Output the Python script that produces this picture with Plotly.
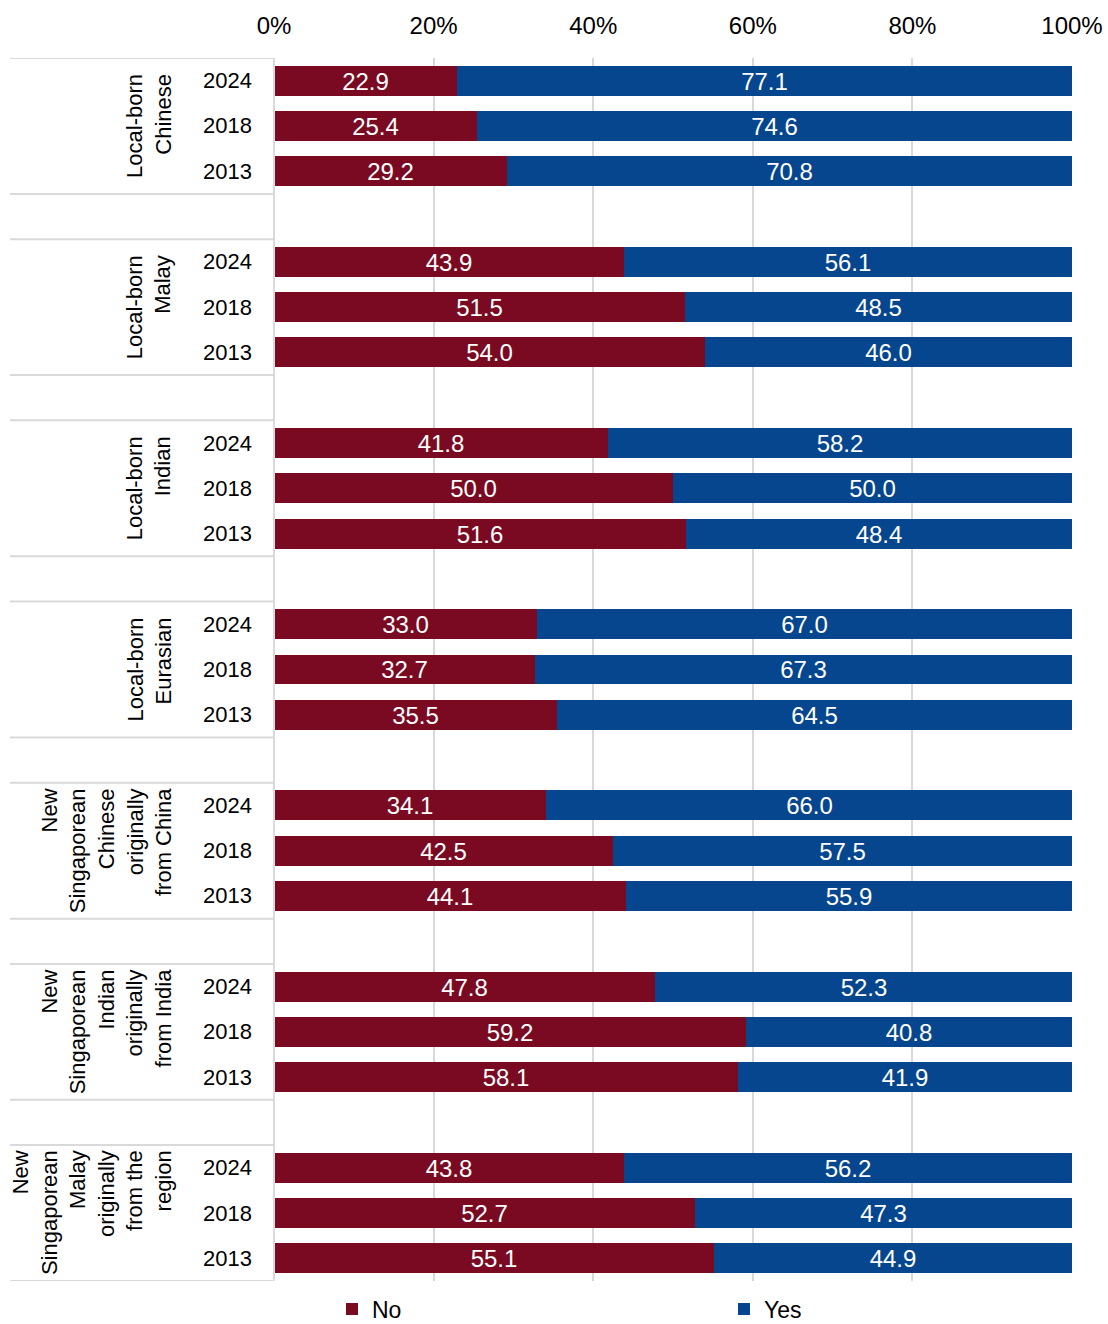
import plotly.graph_objects as go

# Survey groups, years and shares (%) answering No / Yes
groups = [
    "Local-born<br>Chinese",
    "Local-born<br>Malay",
    "Local-born<br>Indian",
    "Local-born<br>Eurasian",
    "New<br>Singaporean<br>Chinese<br>originally<br>from China",
    "New<br>Singaporean<br>Indian<br>originally<br>from India",
    "New<br>Singaporean<br>Malay<br>originally<br>from the<br>region",
]
years = ["2024", "2018", "2013"]

no_values = [
    [22.9, 25.4, 29.2],
    [43.9, 51.5, 54.0],
    [41.8, 50.0, 51.6],
    [33.0, 32.7, 35.5],
    [34.1, 42.5, 44.1],
    [47.8, 59.2, 58.1],
    [43.8, 52.7, 55.1],
]
yes_values = [
    [77.1, 74.6, 70.8],
    [56.1, 48.5, 46.0],
    [58.2, 50.0, 48.4],
    [67.0, 67.3, 64.5],
    [66.0, 57.5, 55.9],
    [52.3, 40.8, 41.9],
    [56.2, 47.3, 44.9],
]
x_ticks = [0, 20, 40, 60, 80, 100]

NO_COLOR = "#7A0A22"
YES_COLOR = "#06468F"
GRID = "#D9D9D9"
FONT = "Liberation Sans, Arial, sans-serif"

# Each group takes three rows plus one blank spacer row
ROWS_PER_GROUP = len(years) + 1
row_pos, no_flat, yes_flat = [], [], []
for g in range(len(groups)):
    for k in range(len(years)):
        row_pos.append(g * ROWS_PER_GROUP + k)
        no_flat.append(no_values[g][k])
        yes_flat.append(yes_values[g][k])
last_row = (len(groups) - 1) * ROWS_PER_GROUP + len(years) - 1

fig = go.Figure()
for name, vals, color in [("No", no_flat, NO_COLOR), ("Yes", yes_flat, YES_COLOR)]:
    fig.add_trace(go.Bar(
        name=name, y=row_pos, x=vals, orientation="h",
        marker=dict(color=color, line=dict(width=0)),
        width=0.66,
        text=[f"{v:.1f}" for v in vals],
        textposition="inside", insidetextanchor="middle",
        constraintext="none",
        textfont=dict(color="white", size=24, family=FONT),
        hoverinfo="x+name",
    ))

# Left-hand category table: separators, group names and years
L = 274
W = 798
FIG_W, FIG_H = 1108, 1324
x_left_paper = (10 - L) / W
shapes = []
annotations = []
for g, label in enumerate(groups):
    top = g * ROWS_PER_GROUP - 0.5
    bottom = top + len(years)
    for yy in (top, bottom):
        shapes.append(dict(type="line", xref="paper", yref="y",
                           x0=x_left_paper, x1=0, y0=yy, y1=yy,
                           line=dict(color=GRID, width=2)))
    annotations.append(dict(
        xref="paper", yref="y", x=(178 - L) / W, y=(top + bottom) / 2,
        text=label, showarrow=False, textangle=-90,
        xanchor="right", yanchor="middle", align="right",
        font=dict(size=22, color="black", family=FONT),
    ))
    for k, yr in enumerate(years):
        annotations.append(dict(
            xref="paper", yref="y", x=(227 - L) / W,
            y=g * ROWS_PER_GROUP + k, text=yr, showarrow=False,
            xanchor="center", yanchor="middle",
            font=dict(size=22, color="black", family=FONT),
        ))

# Vertical axis line along 0%
shapes.append(dict(type="line", xref="paper", yref="paper", x0=0, x1=0,
                   y0=0, y1=1, line=dict(color=GRID, width=2)))

fig.update_layout(
    barmode="stack",
    width=FIG_W, height=FIG_H,
    margin=dict(l=L, r=36, t=58, b=43, autoexpand=False),
    paper_bgcolor="white", plot_bgcolor="white",
    font=dict(family=FONT, color="black"),
    bargap=0,
    xaxis=dict(
        side="top", range=[0, 100], tickvals=x_ticks,
        ticktext=[f"{t}%" for t in x_ticks],
        showgrid=True, gridcolor=GRID, gridwidth=2,
        zeroline=False, showline=False, ticks="",
        tickfont=dict(size=24, color="black", family=FONT),
        ticklabelstandoff=18, fixedrange=True,
    ),
    yaxis=dict(
        range=[last_row + 0.5, -0.5], showticklabels=False,
        showgrid=False, zeroline=False, showline=False, ticks="",
        fixedrange=True,
    ),
    legend=dict(
        orientation="h", x=(332 - L) / W, xanchor="left",
        yref="container", y=(FIG_H - 1309) / FIG_H, yanchor="middle",
        entrywidth=347, entrywidthmode="pixels",
        font=dict(size=23, color="black", family=FONT),
        traceorder="normal", bgcolor="rgba(0,0,0,0)",
    ),
    shapes=shapes,
    annotations=annotations,
    showlegend=True,
)

fig.write_html("out.html")
